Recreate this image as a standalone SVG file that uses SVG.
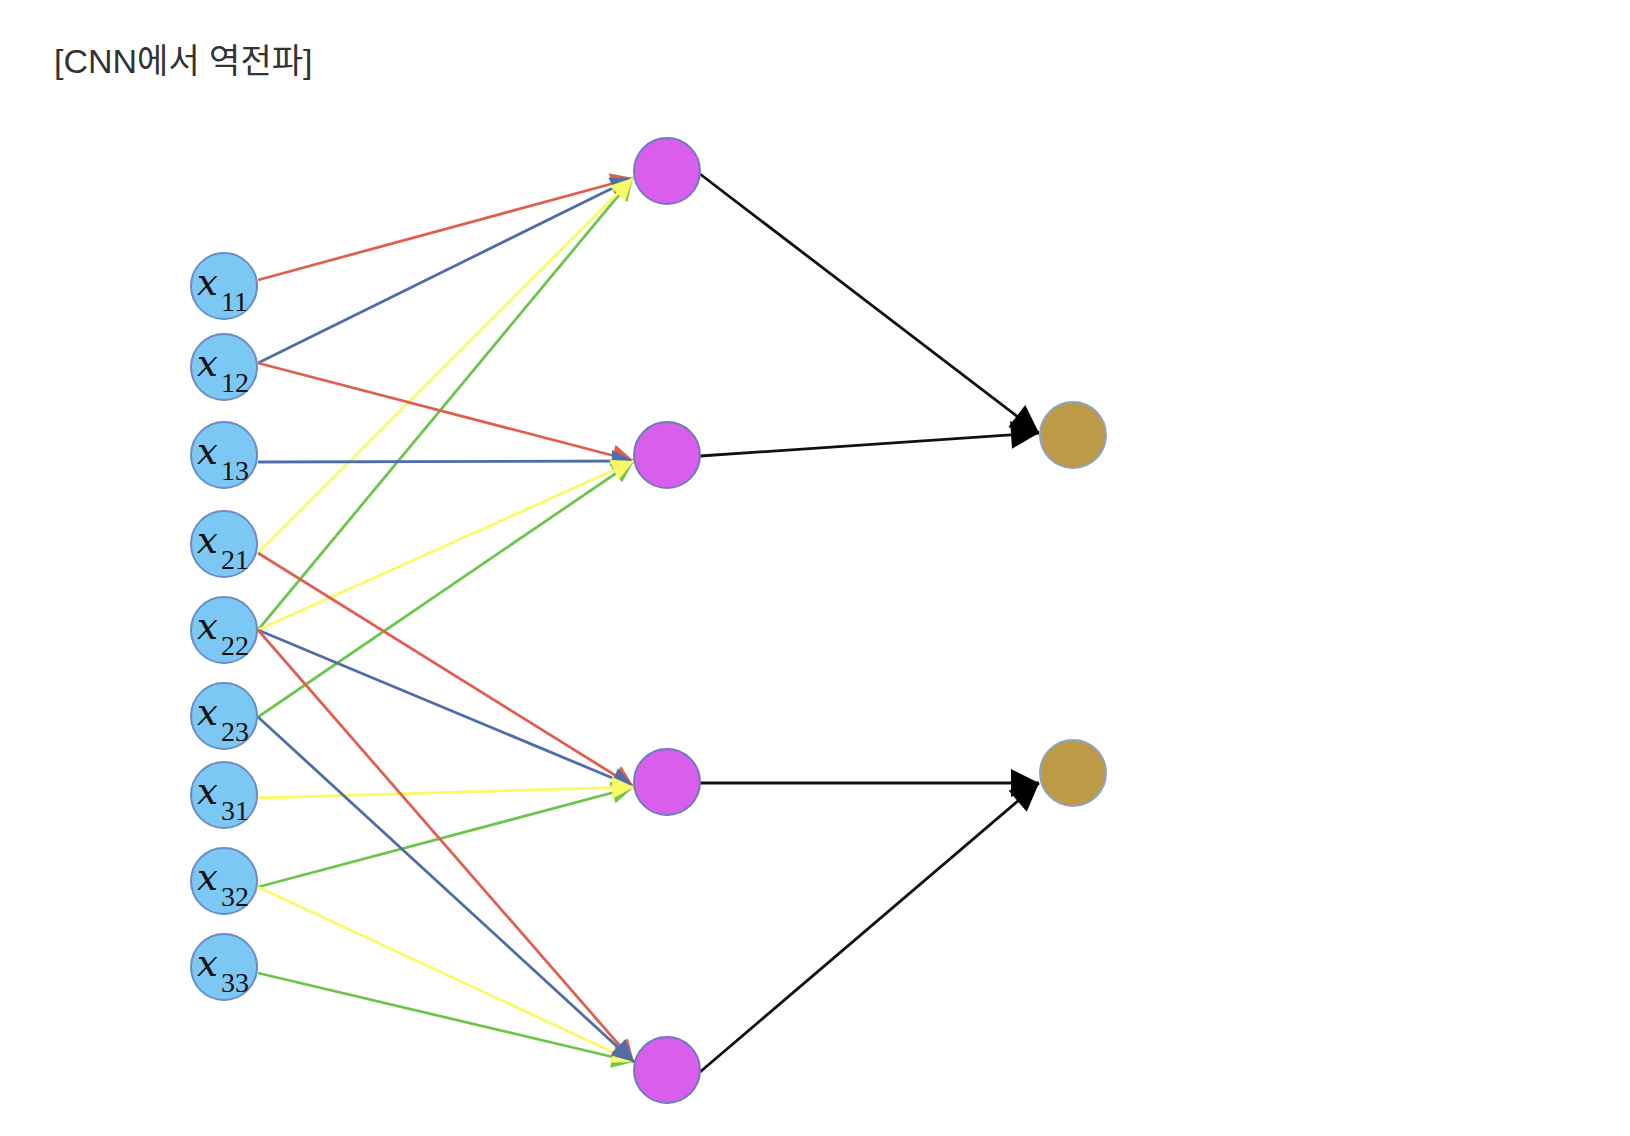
<svg xmlns="http://www.w3.org/2000/svg" width="1630" height="1136" viewBox="0 0 1630 1136">
<style>
.in{fill:#7CC8F5;stroke:#6C8CC4;stroke-width:2}
.hid{fill:#D95EEC;stroke:#6C7CBC;stroke-width:2}
.out{fill:#BC9A46;stroke:#8CA4C8;stroke-width:2}
.lx{font-family:"DejaVu Serif",serif;font-style:italic;font-size:37px;fill:#111}
.ls{font-family:"Liberation Serif",serif;font-size:28px;fill:#111}
.title{font-family:"Liberation Sans","Noto Sans CJK KR",sans-serif;font-size:34px;fill:#333}
.r{stroke:#E0604F;stroke-width:2.8;fill:none;marker-end:url(#mr)}
.b{stroke:#4F6EA8;stroke-width:2.8;fill:none;marker-end:url(#mb)}
.y{stroke:#FAFA66;stroke-width:2.8;fill:none;marker-end:url(#my)}
.g{stroke:#6CC64C;stroke-width:2.8;fill:none;marker-end:url(#mg)}
.k{stroke:#111;stroke-width:2.8;fill:none;marker-end:url(#mk)}
</style>
<defs>
<marker id="mr" viewBox="0 0 10 10" refX="10" refY="5" markerWidth="28" markerHeight="22" markerUnits="userSpaceOnUse" orient="auto"><path d="M0,0 L10,5 L0,10 z" fill="#E0604F"/></marker>
<marker id="mb" viewBox="0 0 10 10" refX="10" refY="5" markerWidth="28" markerHeight="22" markerUnits="userSpaceOnUse" orient="auto"><path d="M0,0 L10,5 L0,10 z" fill="#4F6EA8"/></marker>
<marker id="my" viewBox="0 0 10 10" refX="10" refY="5" markerWidth="28" markerHeight="22" markerUnits="userSpaceOnUse" orient="auto"><path d="M0,0 L10,5 L0,10 z" fill="#FAFA66"/></marker>
<marker id="mg" viewBox="0 0 10 10" refX="10" refY="5" markerWidth="28" markerHeight="22" markerUnits="userSpaceOnUse" orient="auto"><path d="M0,0 L10,5 L0,10 z" fill="#6CC64C"/></marker>
<marker id="mk" viewBox="0 0 10 10" refX="10" refY="5" markerWidth="33" markerHeight="28" markerUnits="userSpaceOnUse" orient="auto"><path d="M0,0 L10,5 L0,10 z" fill="#000"/></marker>
</defs>
<rect width="1630" height="1136" fill="#fff"/>
<text class="title" x="54" y="73">[CNN에서 역전파]</text>
<g id="connectors">
<line class="r" x1="258" y1="280" x2="633" y2="178"/>
<line class="b" x1="258" y1="363" x2="633" y2="178"/>
<line class="g" x1="258" y1="630" x2="633" y2="178"/>
<line class="y" x1="258" y1="553" x2="633" y2="178"/>
<line class="r" x1="258" y1="363" x2="634" y2="461"/>
<line class="b" x1="258" y1="462" x2="634" y2="461"/>
<line class="g" x1="258" y1="717" x2="634" y2="461"/>
<line class="y" x1="258" y1="630" x2="634" y2="461"/>
<line class="r" x1="258" y1="553" x2="634" y2="787"/>
<line class="b" x1="258" y1="630" x2="634" y2="787"/>
<line class="g" x1="258" y1="887" x2="634" y2="787"/>
<line class="y" x1="258" y1="798" x2="634" y2="787"/>
<line class="g" x1="258" y1="973" x2="634" y2="1062"/>
<line class="y" x1="258" y1="887" x2="634" y2="1062"/>
<line class="r" x1="258" y1="630" x2="634" y2="1062"/>
<line class="b" x1="258" y1="717" x2="634" y2="1062"/>
<line class="k" x1="700" y1="174" x2="1039" y2="433"/>
<line class="k" x1="700" y1="456" x2="1039" y2="433"/>
<line class="k" x1="700" y1="783" x2="1039" y2="783"/>
<line class="k" x1="700" y1="1072" x2="1039" y2="783"/>
</g>
<g id="x11"><circle class="in" cx="224" cy="286" r="33"/><text class="lx" x="197" y="295">x</text><text class="ls" x="221" y="311">11</text></g>
<g id="x12"><circle class="in" cx="224" cy="367" r="33"/><text class="lx" x="197" y="376">x</text><text class="ls" x="221" y="392">12</text></g>
<g id="x13"><circle class="in" cx="224" cy="455" r="33"/><text class="lx" x="197" y="464">x</text><text class="ls" x="221" y="480">13</text></g>
<g id="x21"><circle class="in" cx="224" cy="544" r="33"/><text class="lx" x="197" y="553">x</text><text class="ls" x="221" y="569">21</text></g>
<g id="x22"><circle class="in" cx="224" cy="630" r="33"/><text class="lx" x="197" y="639">x</text><text class="ls" x="221" y="655">22</text></g>
<g id="x23"><circle class="in" cx="224" cy="716" r="33"/><text class="lx" x="197" y="725">x</text><text class="ls" x="221" y="741">23</text></g>
<g id="x31"><circle class="in" cx="224" cy="795" r="33"/><text class="lx" x="197" y="804">x</text><text class="ls" x="221" y="820">31</text></g>
<g id="x32"><circle class="in" cx="224" cy="881" r="33"/><text class="lx" x="197" y="890">x</text><text class="ls" x="221" y="906">32</text></g>
<g id="x33"><circle class="in" cx="224" cy="967" r="33"/><text class="lx" x="197" y="976">x</text><text class="ls" x="221" y="992">33</text></g>
<g id="h1"><circle class="hid" cx="667" cy="171" r="33"/></g>
<g id="h2"><circle class="hid" cx="667" cy="455" r="33"/></g>
<g id="h3"><circle class="hid" cx="667" cy="782" r="33"/></g>
<g id="h4"><circle class="hid" cx="667" cy="1070" r="33"/></g>
<g id="o1"><circle class="out" cx="1073" cy="435" r="33"/></g>
<g id="o2"><circle class="out" cx="1073" cy="773" r="33"/></g>
</svg>
